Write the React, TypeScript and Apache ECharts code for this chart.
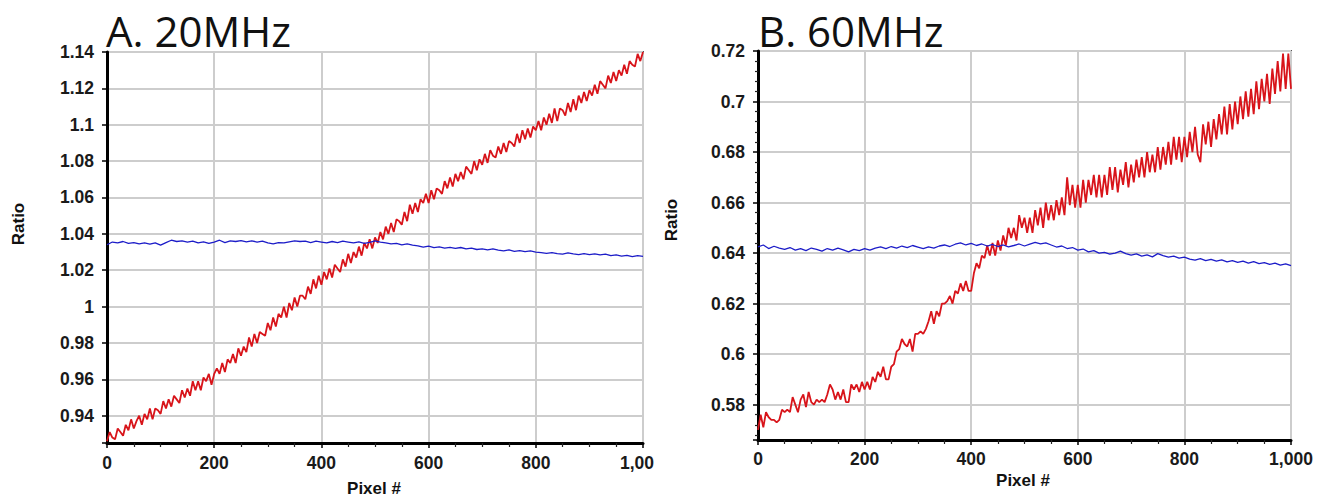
import React, { useEffect, useRef } from "react";
import * as echarts from "echarts";

// Pixel sampling steps of the recorded traces
const redStep = 5;
const blueStep = 10;

// A. 20MHz — red trace (every 5 pixels)
const redA = [
  0.926, 0.931, 0.928, 0.927, 0.933, 0.931, 0.929, 0.935, 0.932, 0.938,
  0.933, 0.937, 0.94, 0.935, 0.941, 0.938, 0.944, 0.938, 0.944, 0.943,
  0.941, 0.948, 0.944, 0.949, 0.945, 0.951, 0.949, 0.947, 0.954, 0.95,
  0.955, 0.951, 0.959, 0.954, 0.959, 0.954, 0.961, 0.959, 0.963, 0.957,
  0.963, 0.966, 0.963, 0.969, 0.964, 0.971, 0.969, 0.974, 0.969, 0.977,
  0.973, 0.978, 0.975, 0.983, 0.978, 0.985, 0.98, 0.986, 0.985, 0.984,
  0.991, 0.987, 0.994, 0.989, 0.996, 0.994, 1.0, 0.994, 1.002, 0.998,
  1.005, 1.0, 1.006, 1.006, 1.004, 1.011, 1.007, 1.015, 1.01, 1.017,
  1.012, 1.019, 1.015, 1.021, 1.016, 1.023, 1.021, 1.019, 1.026, 1.022,
  1.029, 1.024, 1.03, 1.027, 1.033, 1.028, 1.035, 1.032, 1.037, 1.032,
  1.038, 1.035, 1.041, 1.037, 1.044, 1.04, 1.046, 1.041, 1.048, 1.047,
  1.045, 1.052, 1.047, 1.056, 1.051, 1.057, 1.052, 1.059, 1.057, 1.062,
  1.057, 1.064, 1.059, 1.065, 1.064, 1.062, 1.069, 1.065, 1.071, 1.066,
  1.073, 1.069, 1.074, 1.07, 1.077, 1.075, 1.073, 1.08, 1.075, 1.081,
  1.078, 1.084, 1.079, 1.086, 1.083, 1.082, 1.088, 1.084, 1.09, 1.085,
  1.091, 1.09, 1.088, 1.095, 1.09, 1.097, 1.092, 1.098, 1.093, 1.099,
  1.097, 1.102, 1.097, 1.104, 1.1, 1.106, 1.101, 1.109, 1.102, 1.109,
  1.108, 1.105, 1.112, 1.107, 1.114, 1.108, 1.116, 1.112, 1.118, 1.113,
  1.119, 1.116, 1.122, 1.117, 1.124, 1.122, 1.12, 1.127, 1.123, 1.129,
  1.124, 1.13, 1.127, 1.133, 1.128, 1.135, 1.133, 1.132, 1.139, 1.135,
  1.14,
];

// A. 20MHz — blue trace (every 10 pixels)
const blueA = [
  1.034, 1.0355, 1.035, 1.0358, 1.0348, 1.0352, 1.0345, 1.035, 1.0343, 1.035,
  1.0338, 1.0352, 1.0365, 1.0358, 1.0362, 1.0355, 1.036, 1.035, 1.0356, 1.0348,
  1.0355, 1.0365, 1.0352, 1.0362, 1.0358, 1.0363, 1.0356, 1.0362, 1.0355, 1.036,
  1.035, 1.0345, 1.0352, 1.035, 1.0356, 1.0362, 1.0358, 1.036, 1.0352, 1.036,
  1.0355, 1.035, 1.0358, 1.0352, 1.036, 1.0355, 1.035, 1.0356, 1.0348, 1.0353,
  1.0362, 1.0355, 1.035, 1.0345, 1.0348, 1.034, 1.0345, 1.0338, 1.0334, 1.0327,
  1.0332, 1.0324, 1.0328, 1.0322, 1.0326, 1.032, 1.0325, 1.0317, 1.0322, 1.0314,
  1.0318, 1.0312, 1.0317, 1.031, 1.0307, 1.0312, 1.0304, 1.0308, 1.0302, 1.0306,
  1.03, 1.0297, 1.0293, 1.0297, 1.0291, 1.0289, 1.0295, 1.029, 1.0286, 1.0291,
  1.0286, 1.029, 1.0284, 1.0288, 1.028, 1.0284, 1.0278, 1.0282, 1.0275, 1.028,
  1.0276,
];

// B. 60MHz — red trace (every 5 pixels)
const redB = [
  0.57, 0.576, 0.571, 0.577, 0.575, 0.574, 0.574, 0.573, 0.574, 0.578,
  0.577, 0.578, 0.577, 0.583, 0.58, 0.577, 0.582, 0.584, 0.579, 0.585,
  0.581, 0.58, 0.582, 0.581, 0.582, 0.581, 0.584, 0.588, 0.586, 0.582,
  0.585, 0.582, 0.586, 0.581, 0.581, 0.588, 0.586, 0.588, 0.585, 0.589,
  0.586, 0.589, 0.586, 0.591, 0.589, 0.593, 0.591, 0.595, 0.59, 0.59,
  0.595, 0.596, 0.601, 0.602, 0.606, 0.604, 0.603, 0.606, 0.601, 0.608,
  0.608, 0.609, 0.608, 0.61, 0.613, 0.617, 0.612, 0.617, 0.615, 0.62,
  0.62, 0.621, 0.623, 0.62, 0.625, 0.624, 0.628, 0.625, 0.629, 0.625,
  0.625, 0.632, 0.636, 0.634, 0.639, 0.638, 0.643, 0.639, 0.644, 0.639,
  0.645, 0.641, 0.647, 0.643, 0.65, 0.646, 0.65, 0.645, 0.655, 0.65,
  0.654, 0.648, 0.654, 0.648, 0.657, 0.651, 0.658, 0.65, 0.66, 0.653,
  0.659, 0.653, 0.661, 0.655, 0.662, 0.655, 0.67, 0.659, 0.667, 0.658,
  0.667, 0.658, 0.669, 0.66, 0.669, 0.663, 0.671, 0.662, 0.671, 0.662,
  0.671, 0.663, 0.674, 0.665, 0.674, 0.664, 0.673, 0.667, 0.676, 0.666,
  0.675, 0.668, 0.677, 0.67, 0.678, 0.67, 0.68, 0.672, 0.679, 0.672,
  0.682, 0.673, 0.682, 0.675, 0.684, 0.675, 0.686, 0.677, 0.686, 0.676,
  0.686, 0.678, 0.688, 0.68, 0.69, 0.679, 0.676, 0.691, 0.683, 0.692,
  0.682, 0.693, 0.685, 0.695, 0.687, 0.698, 0.687, 0.699, 0.689, 0.7,
  0.691, 0.702, 0.693, 0.704, 0.694, 0.705, 0.695, 0.708, 0.697, 0.709,
  0.7, 0.711, 0.699, 0.713, 0.703, 0.716, 0.704, 0.719, 0.705, 0.719,
  0.705,
];

// B. 60MHz — blue trace (every 10 pixels)
const blueB = [
  0.6425, 0.6432, 0.6418, 0.6427, 0.642, 0.6415, 0.6422, 0.6412, 0.6418, 0.641,
  0.642, 0.6415, 0.6408, 0.6418, 0.6412, 0.642, 0.6413, 0.6405, 0.6415, 0.641,
  0.6418, 0.6412, 0.642, 0.6425, 0.6418, 0.6426, 0.642, 0.6428, 0.6422, 0.643,
  0.6424, 0.6418, 0.6425, 0.642, 0.6428, 0.6432, 0.6426, 0.6435, 0.644, 0.6432,
  0.6438, 0.643, 0.6436, 0.6428, 0.6434, 0.6426, 0.6432, 0.6425, 0.643, 0.6436,
  0.6428, 0.6435, 0.6442, 0.6436, 0.644, 0.6432, 0.6424, 0.6428, 0.6418, 0.6422,
  0.6412, 0.6416, 0.6405, 0.641, 0.64, 0.6403, 0.6396, 0.64, 0.6408, 0.6398,
  0.6392, 0.6397, 0.6388, 0.6393, 0.6385, 0.6398, 0.639, 0.6384, 0.6388, 0.638,
  0.6384, 0.6376, 0.6372, 0.6378, 0.637, 0.6375, 0.6368, 0.6373, 0.6365, 0.637,
  0.6363, 0.6368, 0.636, 0.6366, 0.6358, 0.6362, 0.6355, 0.636, 0.6352, 0.6357,
  0.635,
];

const titles = ["A. 20MHz", "B. 60MHz"];
const yName = "Ratio";
const xName = "Pixel #";
const yRangeA = [0.925, 1.14];
const yRangeB = [0.566, 0.72];
const yStep = 0.02;
const xRange = [0, 1000];
const xStep = 200;

const toPairs = (vals: number[], step: number) => vals.map((v, i) => [i * step, v]);

const labelFont = {
  fontFamily: "Liberation Sans",
  fontWeight: "bold" as const,
  fontSize: 17.5,
  color: "#1a1a1a",
};

const isStep = (v: number) => Math.abs(v / yStep - Math.round(v / yStep)) < 1e-6;

export default function App() {
  const ref = useRef<HTMLDivElement>(null);

  useEffect(() => {
    if (!ref.current) return;
    const chart = echarts.init(ref.current, undefined, { renderer: "svg" });

    const gridCommon = {
      show: true,
      borderColor: "#555",
      borderWidth: 2,
      backgroundColor: "#fff",
      containLabel: false,
    };

    const xAxisCommon = (gridIndex: number, margin: number, fmt: (v: number) => string) => ({
      type: "value" as const,
      gridIndex,
      min: xRange[0],
      max: xRange[1],
      interval: xStep,
      axisLine: { show: true, onZero: false, lineStyle: { color: "#000", width: 3 } },
      axisTick: { show: true, inside: false, length: 5, lineStyle: { color: "#000", width: 1.5 } },
      minorTick: { show: true, splitNumber: 4, length: 4, lineStyle: { color: "#222", width: 1.2 } },
      splitLine: { show: true, lineStyle: { color: "#cdcdcd", width: 2 } },
      axisLabel: {
        ...labelFont,
        margin,
        formatter: fmt,
        rich: {
          c: { ...labelFont, padding: [0, 12, 0, 0] },
        },
      },
    });

    const yAxisCommon = (gridIndex: number, range: number[], split: number, minor: boolean) => ({
      type: "value" as const,
      gridIndex,
      min: range[0],
      max: range[1],
      splitNumber: split,
      axisLine: { show: true, onZero: false, lineStyle: { color: "#000", width: 3 } },
      axisTick: { show: true, inside: false, length: 5, lineStyle: { color: "#000", width: 1.5 } },
      minorTick: { show: minor, splitNumber: 5, length: 3, lineStyle: { color: "#222", width: 1.2 } },
      splitLine: { show: true, lineStyle: { color: "#cdcdcd", width: 2 } },
      axisLabel: {
        ...labelFont,
        margin: 13,
        formatter: (v: number) => (isStep(v) ? String(Math.round(v * 1000) / 1000) : ""),
      },
    });

    const textEl = (text: string, x: number, y: number, font: any, rotation = 0, align = "center") => ({
      type: "text",
      x,
      y,
      rotation,
      silent: true,
      style: {
        text,
        fill: "#111",
        ...font,
        align,
        textAlign: align,
        verticalAlign: "middle",
        textVerticalAlign: "middle",
      },
    });

    const titleFont = { fontFamily: "Open Sans", fontSize: 42, fontWeight: "normal" };
    const nameFont = { fontFamily: "Liberation Sans", fontSize: 17, fontWeight: "bold" };

    chart.setOption({
      animation: false,
      backgroundColor: "#fff",
      grid: [
        { ...gridCommon, left: 107, top: 52, width: 536, height: 391 },
        { ...gridCommon, left: 758, top: 51, width: 533, height: 389 },
      ],
      xAxis: [
        xAxisCommon(0, 11, (v: number) => (v === 1000 ? "{c|1,00}" : String(v))),
        xAxisCommon(1, 10, (v: number) => (v === 1000 ? "1,000" : String(v))),
      ],
      yAxis: [yAxisCommon(0, yRangeA, 10, false), yAxisCommon(1, yRangeB, 8, true)],
      series: [
        {
          type: "line",
          xAxisIndex: 0,
          yAxisIndex: 0,
          data: toPairs(redA, redStep),
          showSymbol: false,
          symbol: "none",
          clip: true,
          lineStyle: { color: "#d8141a", width: 1.8 },
        },
        {
          type: "line",
          xAxisIndex: 0,
          yAxisIndex: 0,
          data: toPairs(blueA, blueStep),
          showSymbol: false,
          symbol: "none",
          clip: true,
          lineStyle: { color: "#1c1cc8", width: 1.3 },
        },
        {
          type: "line",
          xAxisIndex: 1,
          yAxisIndex: 1,
          data: toPairs(redB, redStep),
          showSymbol: false,
          symbol: "none",
          clip: true,
          lineStyle: { color: "#d8141a", width: 1.8 },
        },
        {
          type: "line",
          xAxisIndex: 1,
          yAxisIndex: 1,
          data: toPairs(blueB, blueStep),
          showSymbol: false,
          symbol: "none",
          clip: true,
          lineStyle: { color: "#1c1cc8", width: 1.3 },
        },
      ],
      graphic: [
        textEl(titles[0], 106, 30, titleFont, 0, "left"),
        textEl(titles[1], 758, 30, titleFont, 0, "left"),
        textEl(yName, 18, 224, nameFont, Math.PI / 2),
        textEl(yName, 671, 220, nameFont, Math.PI / 2),
        textEl(xName, 374, 488, nameFont),
        textEl(xName, 1023, 480, nameFont),
      ],
    });

    return () => chart.dispose();
  }, []);

  return (
    <div
      ref={ref}
      style={{ position: "fixed", left: 0, top: 0, width: 1329, height: 500, background: "#fff" }}
    />
  );
}
